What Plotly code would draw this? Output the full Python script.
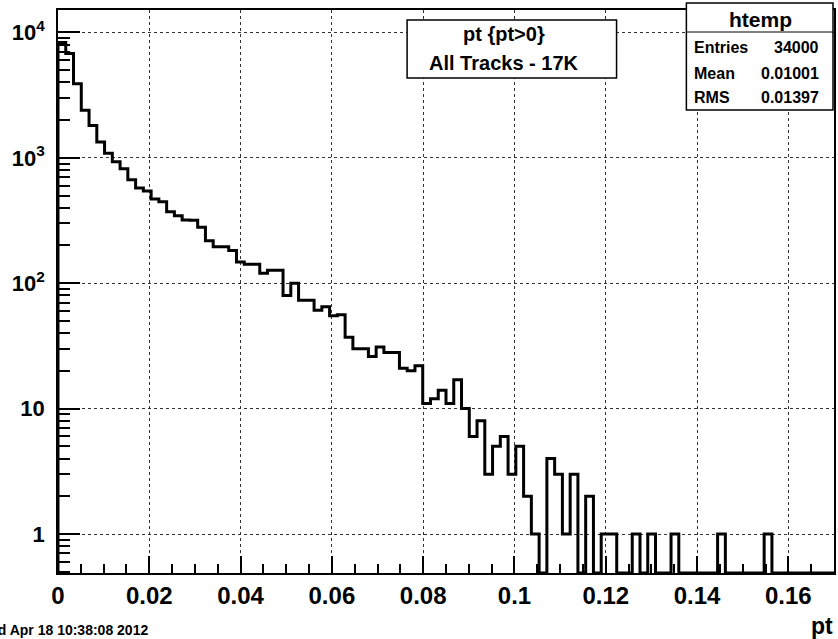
import numpy as np
import plotly.graph_objects as go

# ---- data ----
x_min, x_max, n_bins = 0.0, 0.17, 100
counts = [
    8300, 6800, 3900, 2400, 1810, 1340, 1090, 930, 820, 670,
    575, 545, 470, 447, 372, 345, 319, 318, 279, 218,
    195, 195, 182, 148, 142, 142, 120, 127, 127, 80,
    100, 73, 73, 61, 65, 55, 56, 37, 30, 30,
    26, 31, 28, 28, 21, 20, 22, 11, 12, 14,
    11, 17, 10, 6, 8, 3, 5, 6, 3, 5,
    2, 1, 0, 4, 3, 1, 3, 0, 2, 0,
    1, 1, 0, 0, 1, 0, 1, 0, 0, 1,
    0, 0, 0, 0, 0, 1, 0, 0, 0, 0,
    0, 1, 0, 0, 0, 0, 0, 0, 0, 0,
]
x_tick_vals = [0, 0.02, 0.04, 0.06, 0.08, 0.10, 0.12, 0.14, 0.16]
x_tick_text = ["0", "0.02", "0.04", "0.06", "0.08", "0.1", "0.12", "0.14", "0.16"]
y_tick_vals = [1, 10, 100, 1000, 10000]
y_tick_text = ["1", "10", "10<sup>2</sup>", "10<sup>3</sup>", "10<sup>4</sup>"]
y_minor_vals = [m * 10 ** d for d in range(-1, 5) for m in range(2, 10)]
x_minor_vals = [round(0.005 * k, 4) for k in range(1, 35) if k % 4 != 0]
title_lines = ["pt {pt>0}", "All Tracks - 17K"]
stats_title = "htemp"
stats_rows = [("Entries", "34000"), ("Mean", "0.01001"), ("RMS", "0.01397")]
date_text = "Wed Apr 18 10:38:08 2012"
x_title = "pt"

# ---- layout geometry ----
W, H = 838, 639
L, R, T, B = 58, 2, 10, 66
ylog_range = [-0.311, 4.179]
floor = 10 ** ylog_range[0]

edges = np.linspace(x_min, x_max, n_bins + 1)
plot_counts = [c if c > 0 else floor for c in counts]
xs = [edges[0]] + list(edges[:-1]) + [edges[-1], edges[-1]]
ys = [floor] + plot_counts + [plot_counts[-1], floor]

fig = go.Figure()
fig.add_trace(go.Scatter(
    x=xs, y=ys, mode="lines", line=dict(shape="hv", color="black", width=3),
    hoverinfo="skip", showlegend=False,
))
# invisible trace to carry the minor-tick overlay axes
fig.add_trace(go.Scatter(
    x=[x_min], y=[1], xaxis="x2", yaxis="y2", mode="markers",
    marker=dict(opacity=0), hoverinfo="skip", showlegend=False,
))

bold = dict(family="Liberation Sans, Arial, sans-serif", color="black", weight="bold")

fig.update_layout(
    width=W, height=H,
    margin=dict(l=L, r=R, t=T, b=B, pad=0),
    paper_bgcolor="white", plot_bgcolor="white",
    showlegend=False,
    xaxis=dict(
        range=[x_min, x_max], tickvals=x_tick_vals, ticktext=x_tick_text,
        ticks="inside", ticklen=17, tickwidth=1.5, tickcolor="black",
        showline=True, linecolor="black", linewidth=1.5, mirror=True,
        showgrid=True, gridcolor="#333333", gridwidth=1, griddash="dot",
        zeroline=False, tickfont=dict(size=24, **bold),
    ),
    yaxis=dict(
        type="log", range=ylog_range, tickvals=y_tick_vals, ticktext=y_tick_text,
        ticks="inside", ticklen=22, tickwidth=1.5, tickcolor="black",
        showline=True, linecolor="black", linewidth=1.5, mirror=True,
        showgrid=True, gridcolor="#333333", gridwidth=1, griddash="dot",
        zeroline=False, tickfont=dict(size=22, **bold), ticklabelstandoff=7,
    ),
    xaxis2=dict(
        overlaying="x", anchor="y", side="bottom", range=[x_min, x_max],
        tickvals=x_minor_vals, ticks="inside", ticklen=9, tickwidth=1.5,
        tickcolor="black", showticklabels=False, showgrid=False,
        showline=False, zeroline=False,
    ),
    yaxis2=dict(
        overlaying="y", anchor="x", side="left", type="log", range=ylog_range,
        tickvals=y_minor_vals, ticks="inside", ticklen=12, tickwidth=1.5,
        tickcolor="black", showticklabels=False, showgrid=False,
        showline=False, zeroline=False,
    ),
)

pw = W - L - R
ph = H - T - B


def px(xp):
    return (xp - L) / pw


def py(yp):
    return (H - B - yp) / ph


# title pave
fig.add_shape(type="rect", xref="paper", yref="paper",
              x0=px(408), x1=px(618), y0=py(78), y1=py(20),
              line=dict(color="black", width=1.5), fillcolor="white", layer="above")
fig.add_annotation(xref="paper", yref="paper", x=px(505), y=py(34),
                   text=title_lines[0], showarrow=False,
                   font=dict(size=20, **bold), xanchor="center", yanchor="middle")
fig.add_annotation(xref="paper", yref="paper", x=px(505), y=py(63),
                   text=title_lines[1], showarrow=False,
                   font=dict(size=20, **bold), xanchor="center", yanchor="middle")

# stats box
fig.add_shape(type="rect", xref="paper", yref="paper",
              x0=px(688), x1=px(835), y0=py(110), y1=py(3),
              line=dict(color="black", width=1.5), fillcolor="white", layer="above")
fig.add_shape(type="line", xref="paper", yref="paper",
              x0=px(688), x1=px(835), y0=py(32), y1=py(32),
              line=dict(color="black", width=1), layer="above")
fig.add_annotation(xref="paper", yref="paper", x=px(762), y=py(19),
                   text=stats_title, showarrow=False,
                   font=dict(size=21, **bold), xanchor="center", yanchor="middle")
for (lab, val), yy in zip(stats_rows, [47, 73, 98]):
    fig.add_annotation(xref="paper", yref="paper", x=px(694), y=py(yy),
                       text=lab, showarrow=False,
                       font=dict(size=16, **bold), xanchor="left", yanchor="middle")
    fig.add_annotation(xref="paper", yref="paper", x=px(823), y=py(yy),
                       text=val, showarrow=False,
                       font=dict(size=16, **bold), xanchor="right", yanchor="middle")

# axis title and date
fig.add_annotation(xref="paper", yref="paper", x=px(837), y=py(626),
                   text=x_title, showarrow=False,
                   font=dict(size=23, **bold), xanchor="right", yanchor="middle")
fig.add_annotation(xref="paper", yref="paper", x=px(150), y=py(630),
                   text=date_text, showarrow=False,
                   font=dict(size=14, **bold), xanchor="right", yanchor="middle")

fig.write_html("out.html")
